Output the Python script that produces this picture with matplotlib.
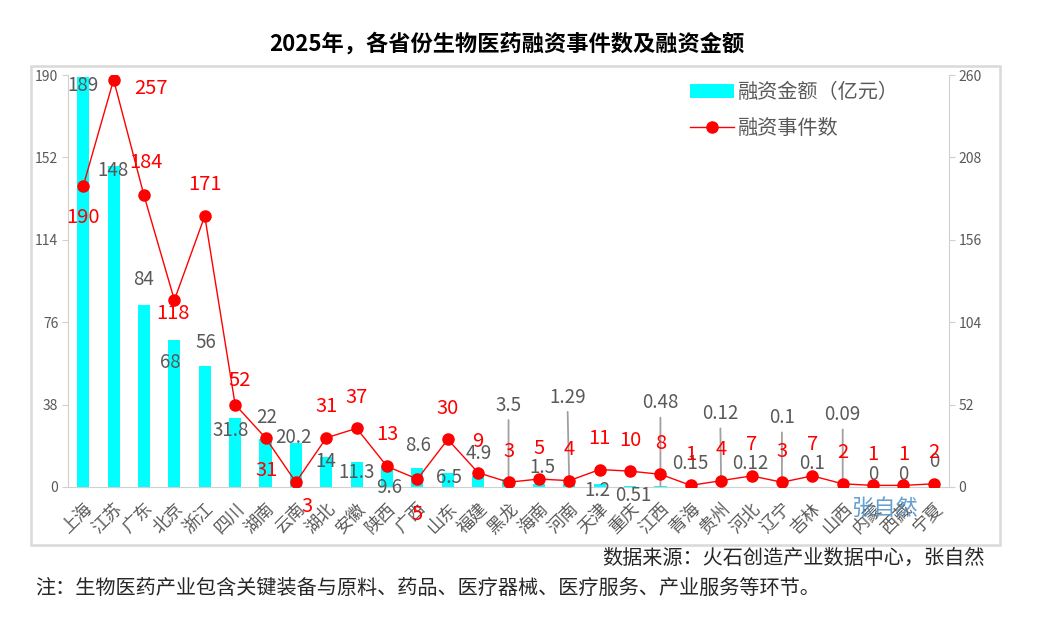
import matplotlib
matplotlib.use("Agg")
import matplotlib.pyplot as plt
from matplotlib.patches import Rectangle
from matplotlib.lines import Line2D
from matplotlib.patches import Patch

plt.rcParams['font.family'] = ['Noto Sans CJK SC', 'DejaVu Sans']

provinces = ['上海', '江苏', '广东', '北京', '浙江', '四川', '湖南', '云南', '湖北', '安徽',
             '陕西', '广西', '山东', '福建', '黑龙', '海南', '河南', '天津', '重庆', '江西',
             '青海', '贵州', '河北', '辽宁', '吉林', '山西', '内蒙', '西藏', '宁夏']
amounts = [189, 148, 84, 68, 56, 31.8, 22, 20.2, 14, 11.3,
           9.6, 8.6, 6.5, 4.9, 3.5, 1.5, 1.29, 1.2, 0.51, 0.48,
           0.15, 0.12, 0.12, 0.1, 0.1, 0.09, 0, 0, 0]
events = [190, 257, 184, 118, 171, 52, 31, 3, 31, 37,
          13, 5, 30, 9, 3, 5, 4, 11, 10, 8,
          1, 4, 7, 3, 7, 2, 1, 1, 2]
left_ticks = [0, 38, 76, 114, 152, 190]
right_ticks = [0, 52, 104, 156, 208, 260]

# label placement (pixel offsets) - styling only
amt_off = [(0, -8), (-1, -4), (0, 25), (-4, -23), (1, 23), (-4, -12), (1, 22), (-2, 6),
           (0, -5), (0, -10), (2, -21), (1, 23), (1, -5), (1, 23), (0, 74), (4, 16),
           (-2, 87), (-2, -6), (3, -10), (0, 83), (0, 23), (-1, 73), (-1, 23), (0, 69),
           (0, 23), (0, 72), (0, 12), (0, 12), (0, 25)]
leader = {14, 16, 19, 21, 23, 25}
evt_off = [(0, -32), (37, -9), (2, 33), (-1, -13), (0, 32), (4, 24), (1, -33), (11, -24),
           (0, 31), (0, 31), (0, 32), (0, -35)] + [(0, 31)] * 17

GRAY = '#595959'
AXC = '#d0d0d0'

fig = plt.figure(figsize=(10.6, 6.34), dpi=100)
ax = fig.add_axes([0.0642, 0.2319, 0.8311, 0.6498])
ax2 = ax.twinx()

x = list(range(len(provinces)))
ax.bar(x, amounts, width=0.4, color='#00ffff', zorder=2)
ax.set_xlim(-0.5, len(provinces) - 0.5)
ax.set_ylim(0, 190)
ax.set_yticks(left_ticks)
ax2.set_ylim(0, 260)
ax2.set_yticks(right_ticks)

ax2.plot(x, events, color='#ff0000', lw=1.0, marker='o', markersize=8, zorder=3)

for i, v in enumerate(amounts):
    dx, dy = amt_off[i]
    kw = {}
    if i in leader:
        kw['arrowprops'] = dict(arrowstyle='-', color='#a0a0a0', lw=1.3, shrinkA=1, shrinkB=0)
    ax.annotate(f"{v:g}", xy=(i, v), xytext=(dx, dy), textcoords='offset pixels',
                ha='center', va='center', fontsize=13.5, color=GRAY, zorder=4, **kw)

for i, v in enumerate(events):
    dx, dy = evt_off[i]
    ax2.annotate(str(v), xy=(i, v), xytext=(dx, dy), textcoords='offset pixels',
                 ha='center', va='center', fontsize=14.5, color='#ff0000', zorder=5)

for a in (ax, ax2):
    for s in a.spines.values():
        s.set_visible(False)
ax.spines['left'].set_visible(True)
ax.spines['left'].set_color(AXC)
ax.spines['bottom'].set_visible(True)
ax.spines['bottom'].set_color(AXC)
ax2.spines['right'].set_visible(True)
ax2.spines['right'].set_color(AXC)

ax.tick_params(axis='y', direction='out', length=4, color=AXC, labelsize=10, labelcolor=GRAY, pad=3)
ax2.tick_params(axis='y', direction='out', length=4, color=AXC, labelsize=10, labelcolor=GRAY, pad=3)
ax.set_xticks(x)
ax.set_xticklabels(provinces, rotation=45, ha='right', rotation_mode='anchor',
                   fontsize=12.5, color=GRAY)
ax.tick_params(axis='x', length=0, pad=9)

handles = [Patch(facecolor='#00ffff', edgecolor='none'),
           Line2D([], [], color='#ff0000', lw=1.0, marker='o', markersize=8)]
leg = fig.legend(handles, ['融资金额（亿元）', '融资事件数'], loc='upper left',
                 bbox_to_anchor=(690 / 1060, 1 - 82 / 634), frameon=False,
                 fontsize=14.5, handlelength=2.2, handletextpad=0.2, labelspacing=0.75,
                 borderpad=0, borderaxespad=0)
for t in leg.get_texts():
    t.set_color(GRAY)

fig.patches.append(Rectangle((0.029, 0.1404), 0.914, 0.7555, transform=fig.transFigure,
                             fill=False, ec='#d9d9d9', lw=1.8))

fig.text(507 / 1060, 1 - 44 / 634, '2025年，各省份生物医药融资事件数及融资金额',
         fontsize=16, fontweight='bold', ha='center', va='center', color='#000000')
fig.text(985 / 1060, 1 - 558 / 634, '数据来源：火石创造产业数据中心，张自然',
         fontsize=14.5, ha='right', va='center', color='#262626')
fig.text(35 / 1060, 1 - 588 / 634,
         '注：生物医药产业包含关键装备与原料、药品、医疗器械、医疗服务、产业服务等环节。',
         fontsize=14.5, ha='left', va='center', color='#262626')
fig.text(884 / 1060, 1 - 508 / 634, '张自然', fontsize=16, ha='center', va='center',
         color='#4a8fc8', alpha=0.85)

fig.savefig('out.png', dpi=100)
